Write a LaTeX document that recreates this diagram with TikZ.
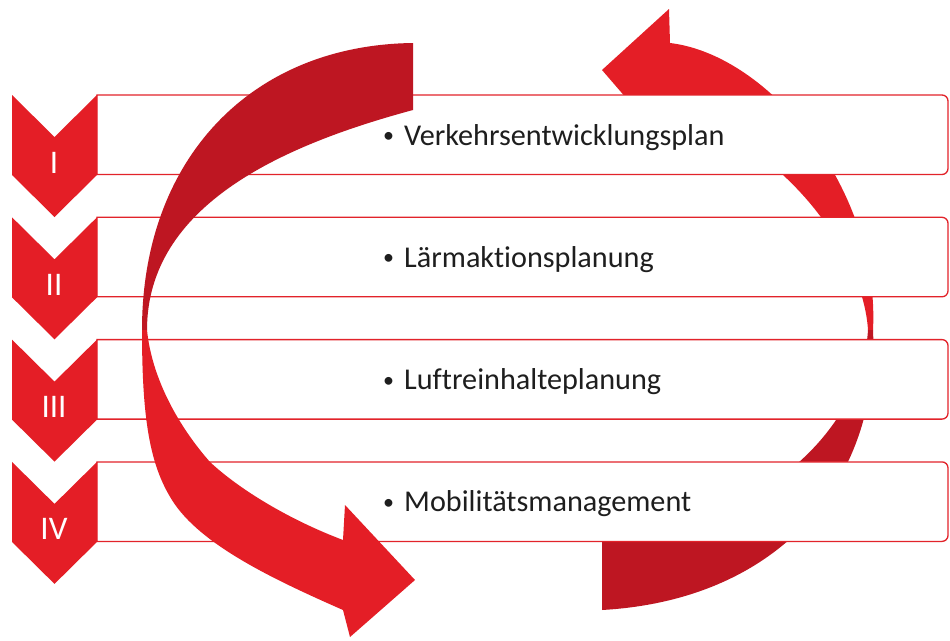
\documentclass[tikz,border=0pt]{standalone}
\usepackage{fontspec}
\setmainfont{Carlito}[RawFeature={-liga}]
\definecolor{arrowred}{RGB}{228,30,38}
\definecolor{arrowdark}{RGB}{190,22,34}
\definecolor{bandline}{RGB}{226,35,42}
\definecolor{chevred}{RGB}{228,30,38}
\definecolor{textgray}{RGB}{30,30,30}
\newcommand{\itembullet}{\llap{\raisebox{2.5pt}{\fontsize{22}{22}\selectfont\textbullet}\hspace{10pt}}}
\begin{document}
\begin{tikzpicture}[x=1pt,y=-1pt,
  bandbox/.style={draw=bandline, line width=1.3pt, fill=white},
  chevron/.style={fill=chevred},
  numeral/.style={text=white, font=\fontsize{33}{33}\selectfont, anchor=base, inner sep=0pt},
  item/.style={text=textgray, font=\fontsize{30.2}{31}\selectfont, anchor=base west, inner sep=0pt}]
\useasboundingbox (0,0) rectangle (950,640);
\fill[white] (0,0) rectangle (950,640);

% cycle arrow on the right, passing behind the bands
\fill[arrowred] (602,70) -- (669,9) -- (670,43)
  .. controls (770,55) and (880,190) .. (873,330) -- (868,330)
  .. controls (863,250) and (780,140) .. (671,112) -- (671,150) -- cycle;
\fill[arrowdark] (873,330) .. controls (880,480) and (780,600) .. (602,610)
  -- (602,535) .. controls (760,530) and (862,430) .. (868,330) -- cycle;

% bands with chevrons, numerals and items
\foreach \k/\num/\txt in {0/I/Verkehrsentwicklungsplan, 1/II/Lärmaktionsplanung,
                          2/III/Luftreinhalteplanung, 3/IV/Mobilitätsmanagement}{
  \pgfmathsetmacro{\T}{95+122.3*\k}
  \path[bandbox] (97,\T) -- (942,\T) arc[start angle=-90,end angle=0,radius=6]
    -- (948,\T+73.5) arc[start angle=0,end angle=90,radius=6] -- (97,\T+79.5) -- cycle;
  \fill[chevron] (12,\T) -- (54.5,\T+42) -- (97,\T) -- (97,\T+80)
    -- (54.5,\T+122) -- (12,\T+80) -- cycle;
  \node[numeral] (n\k) at (54,\T+78) {\num};
  \node[item] (t\k) at (404,\T+50) {\itembullet\txt};
}

% cycle arrow on the left, in front of the bands
\fill[arrowdark] (413,43) .. controls (250,45) and (142,160) .. (142,330)
  -- (147,330) .. controls (147,205) and (283,145) .. (413,110) -- cycle;
\fill[arrowred] (142,330) .. controls (142,420) and (150,465) .. (172,500)
  .. controls (200,545) and (275,580) .. (343,610) -- (350,637) -- (415,580)
  -- (345,505) -- (343,540) .. controls (290,520) and (240,490) .. (210,462)
  .. controls (180,428) and (152,380) .. (147,330) -- cycle;
\end{tikzpicture}
\end{document}
